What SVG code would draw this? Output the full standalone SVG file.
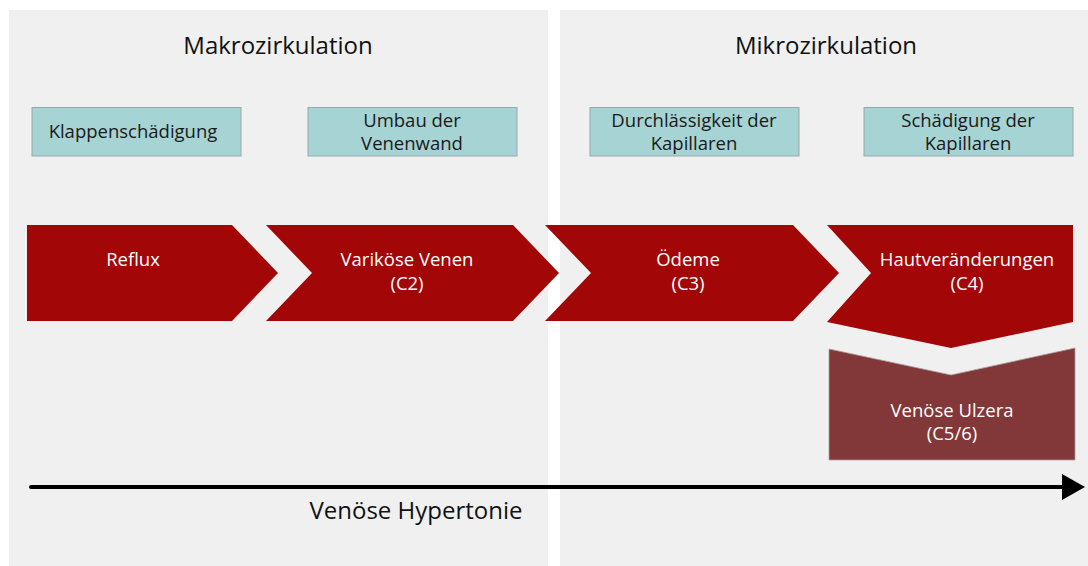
<svg xmlns="http://www.w3.org/2000/svg" width="1088" height="566" viewBox="0 0 1088 566">
  <defs>
    <style>
      .panel { fill: #f0f0f0; }
      .title { font-family: "Open Sans", "Noto Sans", sans-serif; font-size: 24px; fill: #111; text-anchor: middle; }
      .cause rect { fill: #a6d3d3; stroke: #9aa8a8; stroke-width: 1; }
      .cause text { font-family: "Open Sans", "Noto Sans", sans-serif; font-size: 18.5px; fill: #1a1a1a; text-anchor: middle; }
      .stage path { fill: #a20606; }
      .ulcer path { fill: #823739; stroke: #a8a0a0; stroke-width: 0.8; }
      .stage text, .ulcer text { font-family: "Open Sans", "Noto Sans", sans-serif; font-size: 18.5px; fill: #ffffff; text-anchor: middle; }
      .axis { stroke: #000; stroke-width: 4; stroke-linecap: round; fill: none; }
      .axis-label { font-family: "Open Sans", "Noto Sans", sans-serif; font-size: 24px; fill: #111; text-anchor: middle; }
    </style>
    <marker id="arrowhead" markerUnits="userSpaceOnUse" markerWidth="24" markerHeight="26" refX="0" refY="13" orient="auto">
      <path d="M0,0 L23,13 L0,26 Z" fill="#000"/>
    </marker>
  </defs>

  <rect width="1088" height="566" fill="#ffffff"/>

  <!-- background panels -->
  <g id="panel-makro">
    <rect class="panel" x="9" y="10" width="539" height="556"/>
    <text class="title" x="278" y="54">Makrozirkulation</text>
  </g>
  <g id="panel-mikro">
    <rect class="panel" x="560" y="10" width="528" height="556"/>
    <text class="title" x="826" y="54">Mikrozirkulation</text>
  </g>

  <!-- causes -->
  <g id="cause-klappen" class="cause">
    <rect x="32" y="107.5" width="209" height="48.5"/>
    <text x="133" y="138">Klappenschädigung</text>
  </g>
  <g id="cause-venenwand" class="cause">
    <rect x="308" y="107.5" width="209" height="48.5"/>
    <text x="412" y="127">Umbau der</text>
    <text x="412" y="150">Venenwand</text>
  </g>
  <g id="cause-durchlaessigkeit" class="cause">
    <rect x="590" y="107.5" width="209" height="48.5"/>
    <text x="694" y="127">Durchlässigkeit der</text>
    <text x="694" y="150">Kapillaren</text>
  </g>
  <g id="cause-kapillaren" class="cause">
    <rect x="864" y="107.5" width="209" height="48.5"/>
    <text x="968" y="127">Schädigung der</text>
    <text x="968" y="150">Kapillaren</text>
  </g>

  <!-- stages -->
  <g id="stage-reflux" class="stage">
    <path d="M27,225 L232,225 L278,273 L232,321 L27,321 Z"/>
    <text x="133" y="266">Reflux</text>
  </g>
  <g id="stage-varikose" class="stage">
    <path d="M266,225 L513,225 L559,273 L513,321 L266,321 L312,273 Z"/>
    <text x="407" y="266">Variköse Venen</text>
    <text x="407" y="290">(C2)</text>
  </g>
  <g id="stage-oedeme" class="stage">
    <path d="M545,225 L793,225 L839,273 L793,321 L545,321 L591,273 Z"/>
    <text x="688" y="266">Ödeme</text>
    <text x="688" y="290">(C3)</text>
  </g>
  <g id="stage-haut" class="stage">
    <path d="M827,225 L1073,225 L1073,322 L951,348 L827,322 L871,273 Z"/>
    <text x="967" y="266">Hautveränderungen</text>
    <text x="967" y="290">(C4)</text>
  </g>
  <g id="stage-ulzera" class="ulcer">
    <path d="M829,349 L951,375 L1075,348 L1075,460 L829,460 Z"/>
    <text x="952" y="417">Venöse Ulzera</text>
    <text x="952" y="440">(C5/6)</text>
  </g>

  <!-- connectors -->
  <g id="connectors">
    <line class="axis" x1="31" y1="487" x2="1062" y2="487" marker-end="url(#arrowhead)"/>
  </g>
  <text class="axis-label" x="416" y="519">Venöse Hypertonie</text>
</svg>
